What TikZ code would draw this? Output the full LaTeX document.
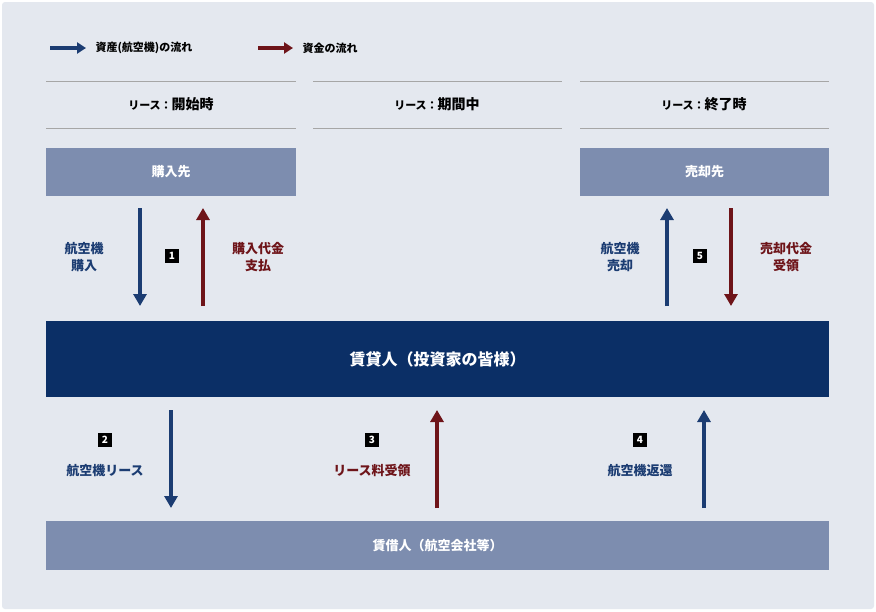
\documentclass[tikz,border=0pt]{standalone}
\usepackage{fontspec}
\setmainfont{Noto Sans CJK JP}
\usetikzlibrary{arrows.meta}
\definecolor{bg}{HTML}{E4E8EF}
\definecolor{navy}{HTML}{0B2F66}
\definecolor{boxb}{HTML}{7D8DAF}
\definecolor{ablue}{HTML}{1B3C72}
\definecolor{ared}{HTML}{6E1419}
\tikzset{
  x=1pt,y=-1pt,
  bluearr/.style={draw=ablue,line width=4.5pt,-{Triangle[width=13pt,length=12pt]}},
  redarr/.style={draw=ared,line width=4.5pt,-{Triangle[width=13pt,length=12pt]}},
  lbox/.style={fill=boxb,text=white,font=\fontsize{13}{15}\selectfont\bfseries,inner sep=0pt},
  num/.style={fill=black,text=white,minimum size=14pt,inner sep=0pt,font=\fontsize{10}{10}\selectfont\bfseries},
  lblb/.style={text=ablue,font=\fontsize{13}{17}\selectfont\bfseries,align=center},
  lblr/.style={text=ared,font=\fontsize{13}{17}\selectfont\bfseries,align=center},
  head/.style={font=\fontsize{14}{16}\selectfont\bfseries},
  rule/.style={draw=gray!70,line width=0.6pt}
}
\begin{document}
\begin{tikzpicture}
\fill[white] (0,0) rectangle (876,611);
\fill[bg,rounded corners=3pt] (2,2) rectangle (874,609);
\useasboundingbox (0,0) rectangle (876,611);
% legend
\coordinate (l1a) at (50,48); \coordinate (l1b) at (86,48);
\draw[draw=ablue,line width=4pt,-{Triangle[width=11pt,length=9pt]}] (l1a) -- (l1b);
\node[anchor=west,font=\fontsize{11}{13}\selectfont\bfseries] (lt1) at (92,48) {資産(航空機)の流れ};
\coordinate (l2a) at (258,48); \coordinate (l2b) at (293,48);
\draw[draw=ared,line width=4pt,-{Triangle[width=11pt,length=9pt]}] (l2a) -- (l2b);
\node[anchor=west,font=\fontsize{11}{13}\selectfont\bfseries] (lt2) at (299,48) {資金の流れ};
% headers
\foreach \a/\b in {46/296,313/562,580/829}{
  \draw[rule] (\a,81) -- (\b,81); \draw[rule] (\a,128) -- (\b,128);}
\node[head] (h1) at (171,104) {{\fontsize{11}{13}\selectfont リース：}開始時};
\node[head] (h2) at (437,104) {{\fontsize{11}{13}\selectfont リース：}期間中};
\node[head] (h3) at (704,104) {{\fontsize{11}{13}\selectfont リース：}終了時};
% boxes
\node[lbox,minimum width=250pt,minimum height=48pt] (buy) at (171,172) {購入先};
\node[lbox,minimum width=249pt,minimum height=48pt] (sell) at (704.5,172) {売却先};
\node[fill=navy,text=white,minimum width=783pt,minimum height=76pt,inner sep=0pt,font=\fontsize{16}{18}\selectfont\bfseries] (lessor) at (437.5,359) {賃貸人（投資家の皆様）};
\node[lbox,minimum width=783pt,minimum height=49pt] (lessee) at (437.5,545.5) {賃借人（航空会社等）};
% top arrows
\draw[bluearr] (140,208) -- (140,306);
\draw[redarr] (203,306) -- (203,208);
\node[lblb] (t1) at (84,257) {航空機\\購入};
\node[num] (n1) at (172,256) {1};
\node[lblr] (t2) at (258,257) {購入代金\\支払};
\draw[bluearr] (667,306) -- (667,208);
\draw[redarr] (731,208) -- (731,306);
\node[lblb] (t5) at (620,257) {航空機\\売却};
\node[num] (n5) at (700,256) {5};
\node[lblr] (t6) at (786,257) {売却代金\\受領};
% bottom arrows
\draw[bluearr] (171,410) -- (171,508);
\draw[redarr] (437,508) -- (437,410);
\draw[bluearr] (704,508) -- (704,410);
\node[num] (n2) at (105,440) {2};
\node[lblb] (t3) at (105,471) {航空機リース};
\node[num] (n3) at (372,440) {3};
\node[lblr] (t4) at (372,471) {リース料受領};
\node[num] (n4) at (640,440) {4};
\node[lblb] (t7) at (640,471) {航空機返還};
\end{tikzpicture}
\end{document}
